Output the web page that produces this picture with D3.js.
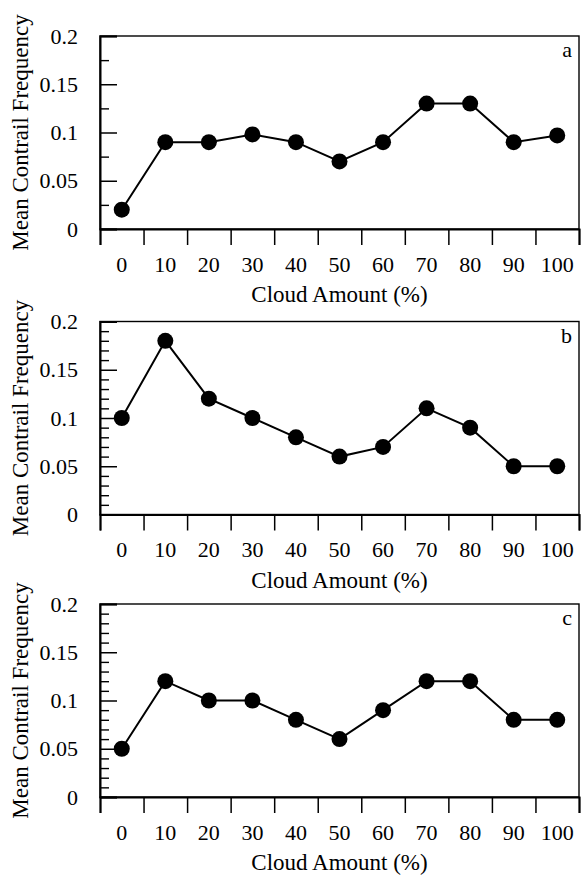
<!DOCTYPE html>
<html>
<head>
<meta charset="utf-8">
<script src="https://cdn.jsdelivr.net/npm/d3@7"></script>
<style>
  body { margin: 0; background: #fff; }
  svg text { font-family: "Liberation Serif", "Times New Roman", serif; fill: #000; }
</style>
</head>
<body>
<svg id="chart" width="582" height="875"></svg>
<script>
// categories on the x axis (cloud amount, %)
var cloudAmount = ["0", "10", "20", "30", "40", "50", "60", "70", "80", "90", "100"];

// mean contrail frequency per panel
var freqA = [0.02, 0.09, 0.09, 0.098, 0.09, 0.07, 0.09, 0.13, 0.13, 0.09, 0.097];
var freqB = [0.10, 0.18, 0.12, 0.10, 0.08, 0.06, 0.07, 0.11, 0.09, 0.05, 0.05];
var freqC = [0.05, 0.12, 0.10, 0.10, 0.08, 0.06, 0.09, 0.12, 0.12, 0.08, 0.08];

var yTicks = [0, 0.05, 0.1, 0.15, 0.2];
var yTickLabels = ["0", "0.05", "0.1", "0.15", "0.2"];

var panels = [
    {letter: "a", values: freqA, top: 36, minorStep: 0.025},
    {letter: "b", values: freqB, top: 321.5, minorStep: 0.01},
    {letter: "c", values: freqC, top: 604, minorStep: 0.01}
];

// plot area dimensions
var left = 100, width = 479, height = 193;

var svg = d3.select("#chart");

var x = d3.scaleBand().domain(cloudAmount).range([0, width]);
// boundaries between the categories carry the x ticks
var xEdge = d3.scaleLinear().domain([0, cloudAmount.length]).range([0, width]);
var y = d3.scaleLinear().domain([0, 0.2]).range([height, 0]);

var line = d3.line()
    .x(function (d, i) { return x(cloudAmount[i]) + x.bandwidth() / 2; })
    .y(function (d) { return y(d); });

panels.forEach(function (p) {
    var g = svg.append("g")
        .attr("transform", "translate(" + left + "," + p.top + ")");

    // frame
    g.append("rect")
        .attr("width", width)
        .attr("height", height)
        .attr("fill", "none")
        .attr("stroke", "#000")
        .attr("stroke-width", 1.4);

    // minor y ticks (inside)
    var minor = d3.range(0, 0.2 + 1e-9, p.minorStep).filter(function (v) {
        return Math.abs(v / 0.05 - Math.round(v / 0.05)) > 1e-6;
    });
    g.append("g")
        .attr("class", "yMinor")
        .call(d3.axisLeft(y).tickValues(minor).tickSize(-9).tickFormat(""))
        .call(function (a) { a.select(".domain").remove(); })
        .selectAll("line").attr("stroke-width", 1.4);

    // major y ticks and labels
    g.append("g")
        .attr("class", "yAxis")
        .call(d3.axisLeft(y).tickValues(yTicks).tickSize(-17).tickPadding(22)
            .tickFormat(function (d, i) { return yTickLabels[i]; }))
        .call(function (a) {
            a.select(".domain").attr("stroke-width", 2);
            a.selectAll("line").attr("stroke-width", 1.5);
            a.selectAll("text").style("font-size", "22px")
                .style("font-family", "Liberation Serif, serif");
        });

    // x ticks at band boundaries
    g.append("g")
        .attr("class", "xEdges")
        .attr("transform", "translate(0," + height + ")")
        .call(d3.axisBottom(xEdge).tickValues(d3.range(cloudAmount.length + 1)).tickSize(16).tickFormat(""))
        .call(function (a) {
            a.select(".domain").attr("stroke-width", 2);
            a.selectAll("line").attr("stroke-width", 1.5);
        });

    // x labels centred in each band
    g.append("g")
        .attr("class", "xAxis")
        .attr("transform", "translate(0," + height + ")")
        .call(d3.axisBottom(x).tickSize(0).tickPadding(27))
        .call(function (a) {
            a.select(".domain").remove();
            a.selectAll("text").style("font-size", "22px")
                .style("font-family", "Liberation Serif, serif");
        });

    // axis titles
    g.append("text")
        .attr("x", width / 2)
        .attr("y", height + 73)
        .attr("text-anchor", "middle")
        .style("font-size", "23px")
        .text("Cloud Amount (%)");

    g.append("text")
        .attr("transform", "translate(" + (28 - left) + "," + (height / 2) + ") rotate(-90)")
        .attr("text-anchor", "middle")
        .style("font-size", "23px")
        .text("Mean Contrail Frequency");

    // panel letter
    g.append("text")
        .attr("x", width - 7)
        .attr("y", 21)
        .attr("text-anchor", "end")
        .style("font-size", "22px")
        .text(p.letter);

    // data line and markers
    g.append("path")
        .datum(p.values)
        .attr("fill", "none")
        .attr("stroke", "#000")
        .attr("stroke-width", 2)
        .attr("d", line);

    g.selectAll("circle")
        .data(p.values)
        .enter().append("circle")
        .attr("cx", function (d, i) { return x(cloudAmount[i]) + x.bandwidth() / 2; })
        .attr("cy", function (d) { return y(d); })
        .attr("r", 8)
        .attr("fill", "#000");
});
</script>
</body>
</html>
